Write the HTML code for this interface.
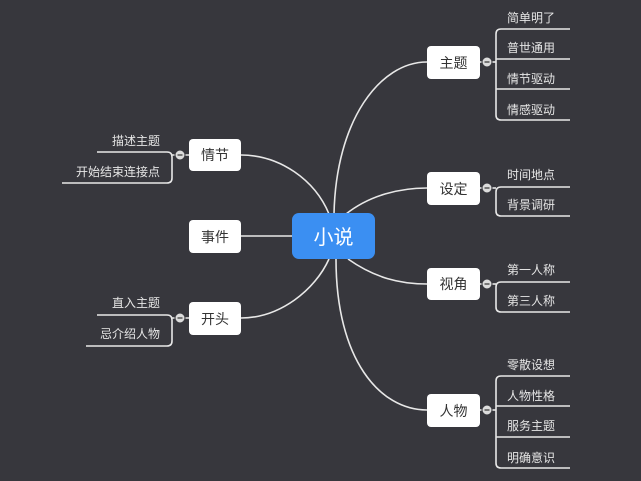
<!DOCTYPE html>
<html><head><meta charset="utf-8"><style>
html,body{margin:0;padding:0;background:#37373d;}
svg{display:block}
text{font-family:"Liberation Sans","Noto Sans CJK SC",sans-serif;}
</style></head><body>
<svg width="641" height="481" viewBox="0 0 641 481" xmlns="http://www.w3.org/2000/svg">
<rect width="641" height="481" fill="#37373d"/>
<g fill="none" stroke="#e8e8e8" stroke-width="1.6">
<!-- main curves -->
<path d="M334 214 C336 120 380 62 427 62"/>
<path d="M346 214 C370 195 400 188 427 188"/>
<path d="M348 259 C375 278 400 284 427 284"/>
<path d="M336 259 C336 360 380 410 427 410"/>
<path d="M329 214 C315 180 280 155 241 155"/>
<path d="M292 236 L241 236"/>
<path d="M329 259 C315 290 280 318 241 318"/>
<!-- right brackets -->
<path d="M480 62 L496 62"/>
<path d="M570 29 L501 29 Q496 29 496 34 L496 115 Q496 120 501 120 L570 120"/>
<path d="M496 59 L570 59 M496 89 L570 89"/>
<path d="M480 188 L496 188"/>
<path d="M570 187 L501 187 Q496 187 496 192 L496 211 Q496 216 501 216 L570 216"/>
<path d="M480 284 L496 284"/>
<path d="M570 282 L501 282 Q496 282 496 287 L496 307 Q496 312 501 312 L570 312"/>
<path d="M480 410 L496 410"/>
<path d="M570 376 L501 376 Q496 376 496 381 L496 463 Q496 468 501 468 L570 468"/>
<path d="M496 406 L570 406 M496 437 L570 437"/>
<!-- left brackets -->
<path d="M189 155 L172 155"/>
<path d="M97 152 L167 152 Q172 152 172 157 L172 178 Q172 183 167 183 L62 183"/>
<path d="M189 318 L172 318"/>
<path d="M97 315 L167 315 Q172 315 172 320 L172 341 Q172 346 167 346 L86 346"/>
</g>
<!-- collapse circles -->
<g fill="#dcdcdc" stroke="#37373d" stroke-width="1">
<circle cx="487" cy="62" r="5"/><circle cx="487" cy="188" r="5"/><circle cx="487" cy="284" r="5"/><circle cx="487" cy="410" r="5"/>
<circle cx="180" cy="155" r="5"/><circle cx="180" cy="318" r="5"/>
</g>
<g stroke="#555" stroke-width="1.4">
<path d="M484.5 62h5M484.5 188h5M484.5 284h5M484.5 410h5M177.5 155h5M177.5 318h5"/>
</g>
<!-- nodes -->
<rect x="292" y="213" width="83" height="46" rx="7" fill="#3b8ff2"/>
<text x="333.5" y="244" font-size="20" fill="#fff" text-anchor="middle">小说</text>
<g fill="#fff">
<rect x="427" y="46" width="53" height="33" rx="4"/>
<rect x="427" y="172" width="53" height="33" rx="4"/>
<rect x="427" y="268" width="53" height="32" rx="4"/>
<rect x="427" y="394" width="53" height="33" rx="4"/>
<rect x="189" y="139" width="52" height="32" rx="4"/>
<rect x="189" y="220" width="52" height="33" rx="4"/>
<rect x="189" y="302" width="52" height="33" rx="4"/>
</g>
<g font-size="14" fill="#333" text-anchor="middle">
<text x="453.5" y="68">主题</text>
<text x="453.5" y="194">设定</text>
<text x="453.5" y="289">视角</text>
<text x="453.5" y="416">人物</text>
<text x="215" y="160">情节</text>
<text x="215" y="242">事件</text>
<text x="215" y="324">开头</text>
</g>
<g font-size="12" fill="#e6e6e6">
<text x="507" y="22">简单明了</text>
<text x="507" y="52">普世通用</text>
<text x="507" y="83">情节驱动</text>
<text x="507" y="114">情感驱动</text>
<text x="507" y="179">时间地点</text>
<text x="507" y="209">背景调研</text>
<text x="507" y="274">第一人称</text>
<text x="507" y="305">第三人称</text>
<text x="507" y="369">零散设想</text>
<text x="507" y="400">人物性格</text>
<text x="507" y="430">服务主题</text>
<text x="507" y="462">明确意识</text>
</g>
<g font-size="12" fill="#e6e6e6" text-anchor="end">
<text x="160" y="145">描述主题</text>
<text x="160" y="176">开始结束连接点</text>
<text x="160" y="307">直入主题</text>
<text x="160" y="338">忌介绍人物</text>
</g>
</svg>
</body></html>
